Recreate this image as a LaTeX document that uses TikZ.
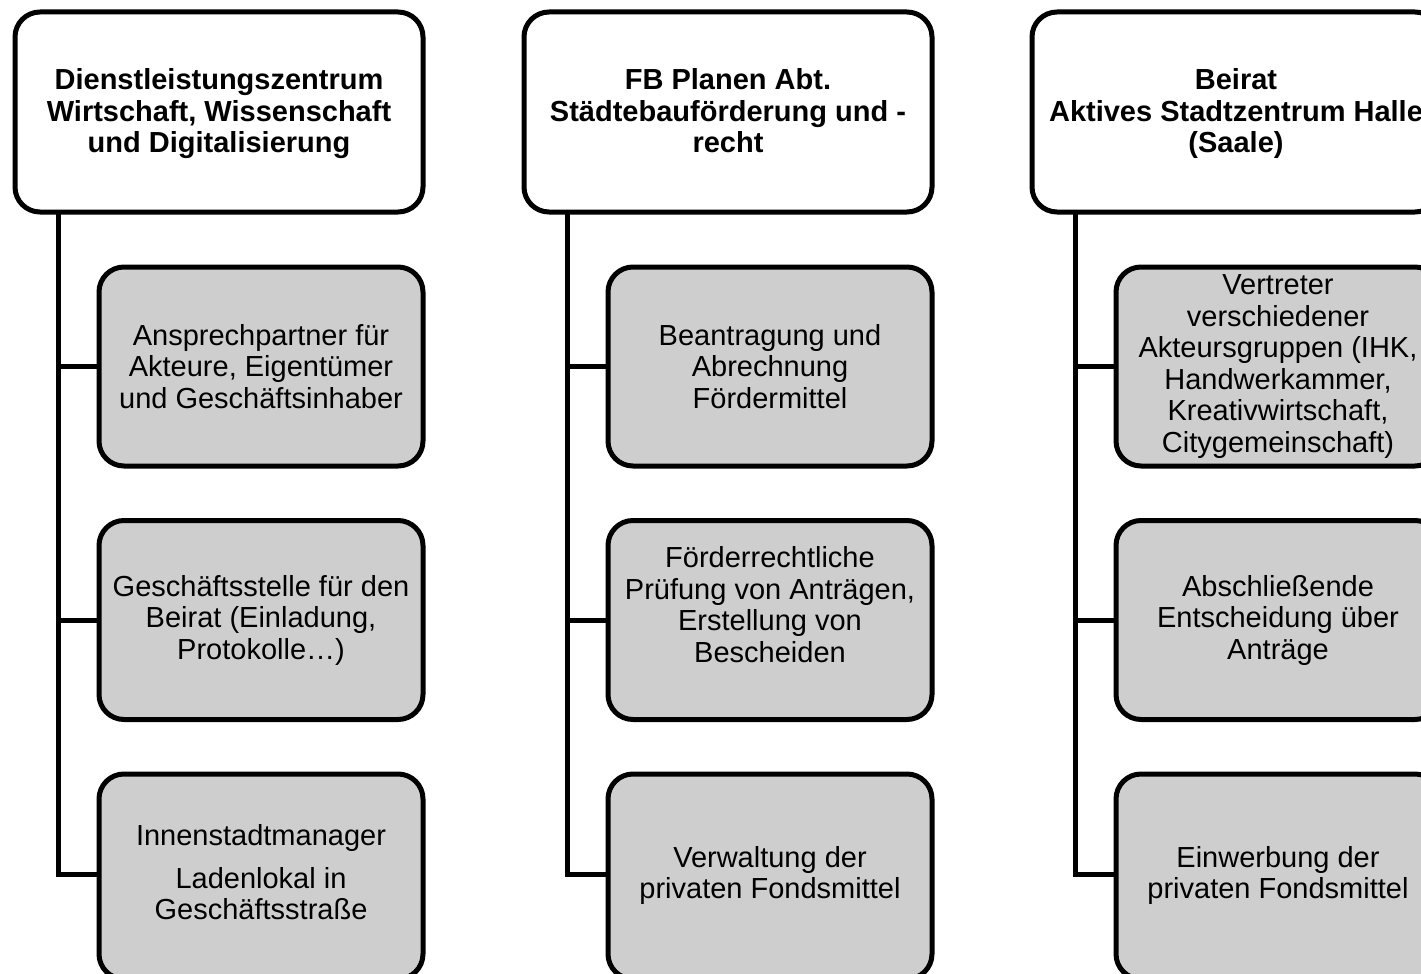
\documentclass[tikz,border=0pt]{standalone}
\usepackage{fontspec}
\setmainfont{Liberation Sans}
\definecolor{boxgray}{RGB}{206,206,206}
\newcommand{\lines}[2][0pt]{\raisebox{#1}[\height][\depth]{\begin{tabular}{@{}c@{}}#2\end{tabular}}}
\begin{document}
\begin{tikzpicture}[x=1pt,y=-1pt,
  hbox/.style={draw=black, line width=5pt, rounded corners=25pt, fill=white,
    minimum width=408pt, minimum height=200pt, align=center, inner sep=0pt,
    font=\fontsize{29}{31.5}\selectfont\bfseries},
  cbox/.style={draw=black, line width=5pt, rounded corners=25pt, fill=boxgray,
    minimum width=324pt, minimum height=199pt, align=center, inner sep=0pt,
    font=\fontsize{29}{31.5}\selectfont},
  lastbox/.style={cbox, minimum height=205pt},
  link/.style={draw=black, line width=5pt}]
\useasboundingbox (0,0) rectangle (1421,974);
\clip (0,0) rectangle (1421,974);

% Column 1
\node[hbox] (h1) at (219,112) {\lines[-3pt]{Dienstleistungszentrum\\Wirtschaft, Wissenschaft\\und Digitalisierung}};
\node[cbox] (a1) at (261,366.5) {Ansprechpartner für\\Akteure, Eigentümer\\und Geschäftsinhaber};
\node[cbox] (a2) at (261,620) {Geschäftsstelle für den\\Beirat (Einladung,\\Protokolle…)};
\node[lastbox] (a3) at (261,876.5) {\lines[0pt]{Innenstadtmanager\\[11pt]Ladenlokal in\\Geschäftsstraße}};
\coordinate (t1) at (58,212);
\coordinate (a3w) at ([yshift=2.5pt]a3.west);

% Column 2
\node[hbox] (h2) at (728,112) {\lines[-3pt]{FB Planen Abt.\\Städtebauförderung und -\\recht}};
\node[cbox] (b1) at (770,366.5) {Beantragung und\\Abrechnung\\Fördermittel};
\node[cbox] (b2) at (770,620) {Förderrechtliche\\Prüfung von Anträgen,\\Erstellung von\\Bescheiden\\~};
\node[lastbox] (b3) at (770,876.5) {\lines[0pt]{Verwaltung der\\privaten Fondsmittel}};
\coordinate (t2) at (567,212);
\coordinate (b3w) at ([yshift=2.5pt]b3.west);

% Column 3
\node[hbox] (h3) at (1236,112) {\lines[-3pt]{Beirat\\Aktives Stadtzentrum Halle\\(Saale)}};
\node[cbox] (c1) at (1278,366.5) {Vertreter\\verschiedener\\Akteursgruppen (IHK,\\Handwerkammer,\\Kreativwirtschaft,\\Citygemeinschaft)};
\node[cbox] (c2) at (1278,620) {Abschließende\\Entscheidung über\\Anträge};
\node[lastbox] (c3) at (1278,876.5) {\lines[0pt]{Einwerbung der\\privaten Fondsmittel}};
\coordinate (t3) at (1075,212);
\coordinate (c3w) at ([yshift=2.5pt]c3.west);

% Connectors
\path[link] (t1) |- (a3w);
\path[link] (t1 |- a1.west) -- (a1.west);
\path[link] (t1 |- a2.west) -- (a2.west);
\path[link] (t2) |- (b3w);
\path[link] (t2 |- b1.west) -- (b1.west);
\path[link] (t2 |- b2.west) -- (b2.west);
\path[link] (t3) |- (c3w);
\path[link] (t3 |- c1.west) -- (c1.west);
\path[link] (t3 |- c2.west) -- (c2.west);
\end{tikzpicture}
\end{document}
